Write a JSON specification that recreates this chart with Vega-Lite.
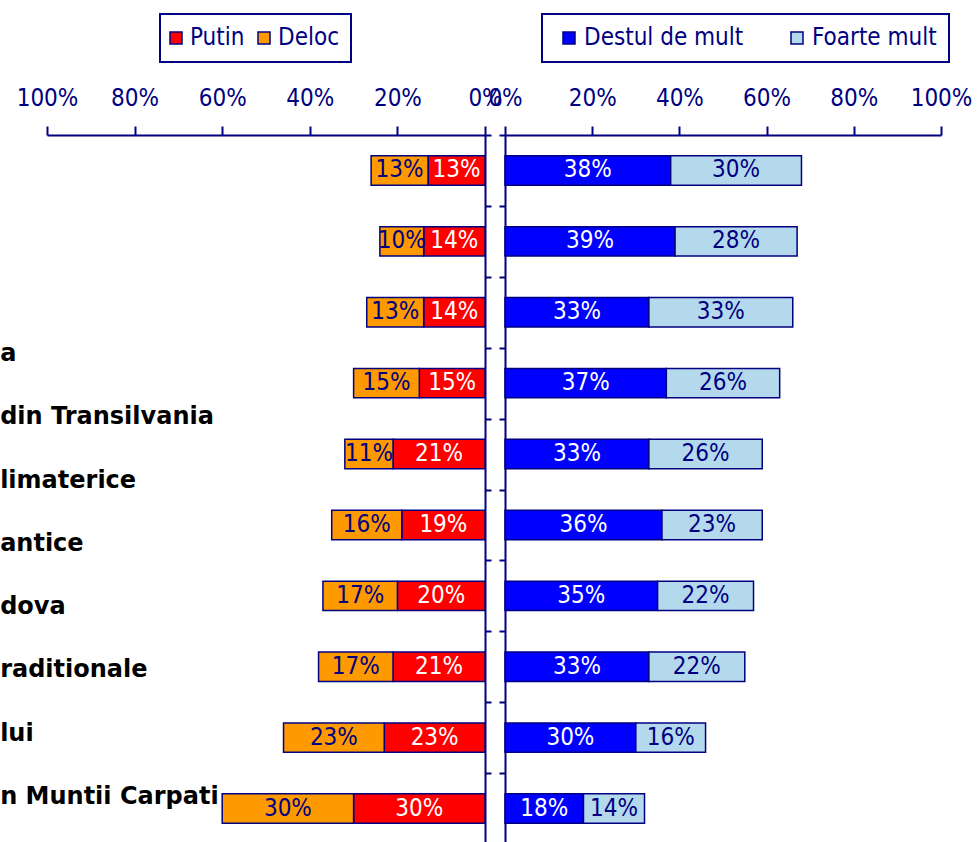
{
  "$schema": "https://vega.github.io/schema/vega-lite/v6.json",
  "padding": {"left": 0, "top": 13, "right": 0, "bottom": 0},
  "background": "white",
  "bounds": "flush",
  "spacing": 20,
  "datasets": {
    "bars": [
      {"item": 1, "series": "Putin", "pct": 13}, {"item": 1, "series": "Deloc", "pct": 13}, {"item": 1, "series": "Destul de mult", "pct": 38}, {"item": 1, "series": "Foarte mult", "pct": 30},
      {"item": 2, "series": "Putin", "pct": 14}, {"item": 2, "series": "Deloc", "pct": 10}, {"item": 2, "series": "Destul de mult", "pct": 39}, {"item": 2, "series": "Foarte mult", "pct": 28},
      {"item": 3, "series": "Putin", "pct": 14}, {"item": 3, "series": "Deloc", "pct": 13}, {"item": 3, "series": "Destul de mult", "pct": 33}, {"item": 3, "series": "Foarte mult", "pct": 33},
      {"item": 4, "series": "Putin", "pct": 15}, {"item": 4, "series": "Deloc", "pct": 15}, {"item": 4, "series": "Destul de mult", "pct": 37}, {"item": 4, "series": "Foarte mult", "pct": 26},
      {"item": 5, "series": "Putin", "pct": 21}, {"item": 5, "series": "Deloc", "pct": 11}, {"item": 5, "series": "Destul de mult", "pct": 33}, {"item": 5, "series": "Foarte mult", "pct": 26},
      {"item": 6, "series": "Putin", "pct": 19}, {"item": 6, "series": "Deloc", "pct": 16}, {"item": 6, "series": "Destul de mult", "pct": 36}, {"item": 6, "series": "Foarte mult", "pct": 23},
      {"item": 7, "series": "Putin", "pct": 20}, {"item": 7, "series": "Deloc", "pct": 17}, {"item": 7, "series": "Destul de mult", "pct": 35}, {"item": 7, "series": "Foarte mult", "pct": 22},
      {"item": 8, "series": "Putin", "pct": 21}, {"item": 8, "series": "Deloc", "pct": 17}, {"item": 8, "series": "Destul de mult", "pct": 33}, {"item": 8, "series": "Foarte mult", "pct": 22},
      {"item": 9, "series": "Putin", "pct": 23}, {"item": 9, "series": "Deloc", "pct": 23}, {"item": 9, "series": "Destul de mult", "pct": 30}, {"item": 9, "series": "Foarte mult", "pct": 16},
      {"item": 10, "series": "Putin", "pct": 30}, {"item": 10, "series": "Deloc", "pct": 30}, {"item": 10, "series": "Destul de mult", "pct": 18}, {"item": 10, "series": "Foarte mult", "pct": 14}
    ],
    "labels": [
      {"label": "a"},
      {"label": "din Transilvania"},
      {"label": "limaterice"},
      {"label": "antice"},
      {"label": "dova"},
      {"label": "raditionale"},
      {"label": "lui"},
      {"label": "n Muntii Carpati"}
    ]
  },
  "config": {
    "view": {"stroke": null},
    "font": "DejaVu Sans Condensed",
    "axis": {
      "domainColor": "#000080", "domainWidth": 2,
      "tickColor": "#000080", "tickWidth": 2,
      "labelColor": "#000080", "labelFont": "DejaVu Sans Condensed", "labelFontSize": 24,
      "grid": false
    },
    "legend": {
      "strokeWidth": 2
    }
  },
  "hconcat": [
    {
      "width": 438,
      "height": 709,
      "layer": [
        {
          "data": {"name": "bars"},
          "transform": [
            {"filter": {"field": "series", "oneOf": ["Putin", "Deloc"]}},
            {"stack": "pct", "groupby": ["item"], "sort": [{"field": "series", "order": "descending"}], "as": ["x0", "x1"]},
            {"calculate": "(datum.x0 + datum.x1) / 2", "as": "xm"},
            {"calculate": "datum.pct + '%'", "as": "lbl"}
          ],
          "encoding": {
            "y": {
              "field": "item", "type": "ordinal",
              "scale": {"paddingInner": 0, "paddingOuter": 0},
              "axis": {"orient": "right", "labels": false, "tickSize": 6, "tickBand": "extent", "title": null}
            }
          },
          "layer": [
            {
              "mark": {"type": "bar", "stroke": "#000080", "strokeWidth": 1.5, "height": {"band": 0.415}},
              "encoding": {
                "x": {
                  "field": "x0", "type": "quantitative", "title": null,
                  "scale": {"domain": [0, 100], "reverse": true},
                  "axis": {"orient": "top", "values": [0, 20, 40, 60, 80, 100], "labelExpr": "datum.value + '%'", "tickSize": 9, "labelPadding": 16, "labelOverlap": false, "labelFlush": false, "labelBound": false, "title": null}
                },
                "x2": {"field": "x1"},
                "color": {
                  "field": "series", "type": "nominal",
                  "scale": {"domain": ["Putin", "Deloc"], "range": ["#FF0000", "#FF9900"]},
                  "legend": {
                    "orient": "none", "legendX": 113, "legendY": -121, "direction": "horizontal", "title": null,
                    "padding": 12, "columnPadding": 10, "labelOffset": 2, "symbolOffset": -8,
                    "symbolType": "square", "symbolSize": 144, "symbolStrokeColor": "#000080", "symbolStrokeWidth": 1.5,
                    "labelFont": "DejaVu Sans Condensed", "labelFontSize": 24, "labelColor": "#000080",
                    "strokeColor": "#000080"
                  }
                }
              }
            },
            {
              "mark": {"type": "text", "fontSize": 24, "baseline": "middle", "font": "DejaVu Sans Condensed"},
              "encoding": {
                "x": {"field": "xm", "type": "quantitative", "title": null},
                "text": {"field": "lbl"},
                "color": {"condition": {"test": "datum.series === 'Putin'", "value": "#FFFFFF"}, "value": "#000080"}
              }
            }
          ]
        },
        {
          "data": {"name": "labels"},
          "mark": {"type": "text", "align": "left", "baseline": "middle", "font": "DejaVu Sans", "fontWeight": "bold", "fontSize": 24, "color": "#000000"},
          "encoding": {
            "y": {"field": "label", "type": "nominal", "sort": null, "scale": {"type": "point", "range": [219, 662], "padding": 0}, "axis": null},
            "x": {"datum": 110.7},
            "text": {"field": "label"}
          }
        }
      ],
      "resolve": {"scale": {"y": "independent"}}
    },
    {
      "width": 436,
      "height": 709,
      "data": {"name": "bars"},
      "transform": [
        {"filter": {"field": "series", "oneOf": ["Destul de mult", "Foarte mult"]}},
        {"stack": "pct", "groupby": ["item"], "sort": [{"field": "series", "order": "ascending"}], "as": ["x0", "x1"]},
        {"calculate": "(datum.x0 + datum.x1) / 2", "as": "xm"},
        {"calculate": "datum.pct + '%'", "as": "lbl"}
      ],
      "encoding": {
        "y": {
          "field": "item", "type": "ordinal",
          "scale": {"paddingInner": 0, "paddingOuter": 0},
          "axis": {"orient": "left", "labels": false, "tickSize": 6, "tickBand": "extent", "title": null}
        }
      },
      "layer": [
        {
          "mark": {"type": "bar", "stroke": "#000080", "strokeWidth": 1.5, "height": {"band": 0.415}},
          "encoding": {
            "x": {
              "field": "x0", "type": "quantitative", "title": null,
              "scale": {"domain": [0, 100]},
              "axis": {"orient": "top", "values": [0, 20, 40, 60, 80, 100], "labelExpr": "datum.value + '%'", "tickSize": 9, "labelPadding": 16, "labelOverlap": false, "labelFlush": false, "labelBound": false, "title": null}
            },
            "x2": {"field": "x1"},
            "color": {
              "field": "series", "type": "nominal",
              "scale": {"domain": ["Destul de mult", "Foarte mult"], "range": ["#0000FF", "#B4D8EC"]},
              "legend": {
                "orient": "none", "legendX": 37, "legendY": -121, "direction": "horizontal", "title": null,
                "padding": 12, "columnPadding": 38, "labelOffset": 3, "symbolOffset": 3,
                "symbolType": "square", "symbolSize": 144, "symbolStrokeColor": "#000080", "symbolStrokeWidth": 1.5,
                "labelFont": "DejaVu Sans Condensed", "labelFontSize": 24, "labelColor": "#000080",
                "strokeColor": "#000080"
              }
            }
          }
        },
        {
          "mark": {"type": "text", "fontSize": 24, "baseline": "middle", "font": "DejaVu Sans Condensed"},
          "encoding": {
            "x": {"field": "xm", "type": "quantitative", "title": null},
            "text": {"field": "lbl"},
            "color": {"condition": {"test": "datum.series === 'Destul de mult'", "value": "#FFFFFF"}, "value": "#000080"}
          }
        }
      ]
    }
  ],
  "resolve": {"scale": {"color": "independent", "x": "independent", "y": "independent"}, "legend": {"color": "independent"}}
}
